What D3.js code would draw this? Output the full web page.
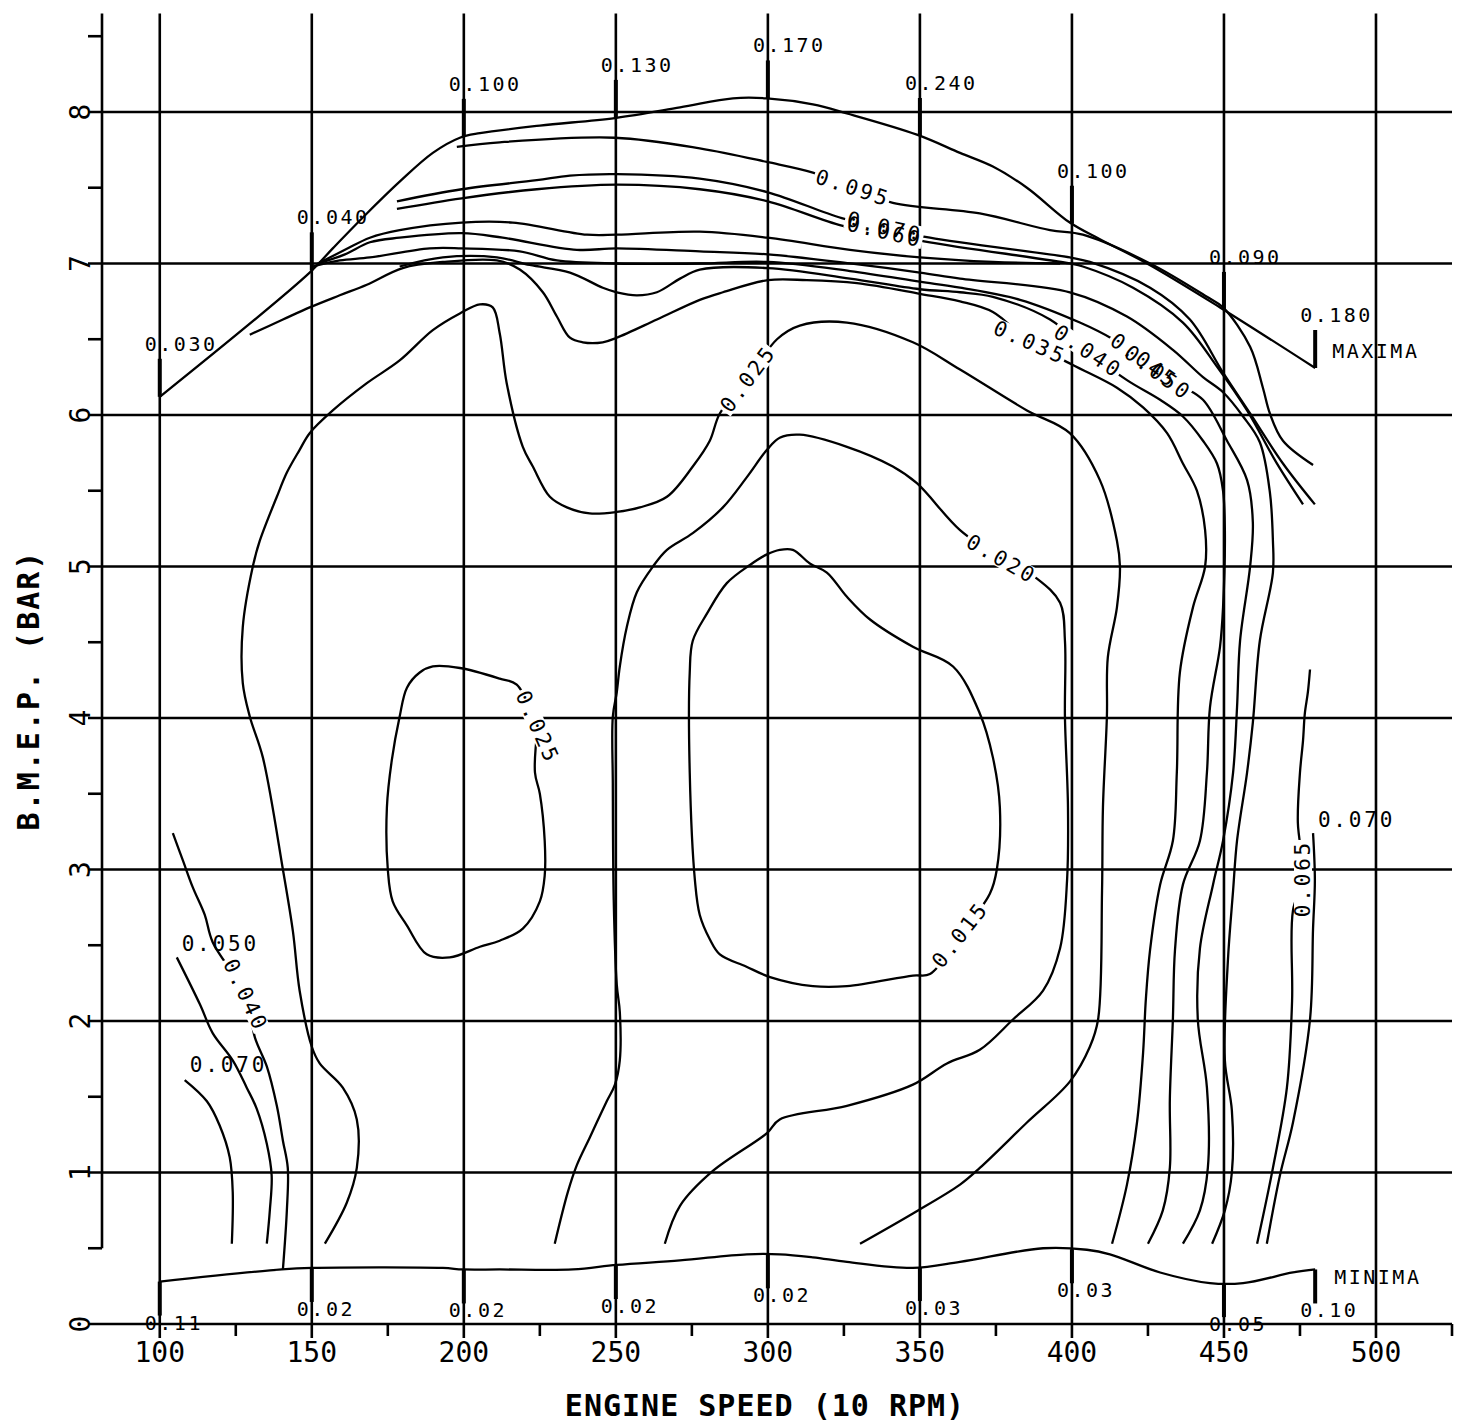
<!DOCTYPE html>
<html>
<head>
<meta charset="utf-8">
<script src="https://cdn.jsdelivr.net/npm/d3@7"></script>
<style>
  body { margin: 0; background: #fff; }
</style>
</head>
<body>
<script>
const speedTicks = [100, 150, 200, 250, 300, 350, 400, 450, 500]
const bmepTicks = [0, 1, 2, 3, 4, 5, 6, 7, 8]

// values printed along the full-load (maxima) and minima curves
const markSpeeds = [100, 150, 200, 250, 300, 350, 400, 450, 480]
const maximaValues = ['0.030', '0.040', '0.100', '0.130', '0.170', '0.240', '0.100', '0.090', '0.180']
const minimaValues = ['0.11', '0.02', '0.02', '0.02', '0.02', '0.03', '0.03', '0.05', '0.10']

// [engine speed (10 rpm), bmep (bar)]
const maxima = [[100, 6.12], [149.3, 6.94], [156.9, 7.10], [168.1, 7.33], [178.9, 7.54], [189.8, 7.73], [198.7, 7.83], [205.3, 7.86], [225, 7.91], [249.7, 7.96], [271.1, 8.03], [288.5, 8.09], [299.7, 8.09], [314.8, 8.05], [326, 7.99], [349, 7.85], [363.2, 7.73], [374, 7.64], [385.2, 7.50], [399.3, 7.27], [409.2, 7.16], [424.7, 7.00], [448.7, 6.71], [480, 6.31]]
const minima = [[100, 0.28], [140.1, 0.36], [150, 0.37], [193.1, 0.37], [199.7, 0.36], [211.8, 0.36], [235.9, 0.36], [250.3, 0.39], [271.1, 0.42], [293.1, 0.46], [303.9, 0.46], [314.8, 0.44], [326, 0.41], [347.7, 0.37], [363.2, 0.41], [390.5, 0.50], [404.9, 0.49], [412.5, 0.46], [429, 0.34], [445.4, 0.27], [456.3, 0.27], [472.7, 0.34], [480, 0.36]]

const c015 = [[363.2, 2.57], [373, 2.84], [375.3, 3.00], [376.3, 3.41], [374, 3.74], [369.7, 4.03], [360.9, 4.34], [347.7, 4.47], [333.6, 4.65], [326, 4.80], [319.4, 4.96], [313.8, 5.02], [308.2, 5.11], [303.9, 5.11], [299.7, 5.08], [294.1, 5.01], [286.5, 4.89], [280, 4.69], [275.3, 4.51], [274.3, 4.30], [274.3, 3.64], [276, 2.93], [277.6, 2.70], [280.9, 2.54], [284.2, 2.44], [292.8, 2.36], [300.7, 2.29], [314.8, 2.23], [326, 2.23], [347.7, 2.30], [353.3, 2.31], [363.2, 2.57]]
const c020 = [[229.9, 0.53], [234.2, 0.87], [237.2, 1.05], [241.4, 1.23], [247, 1.47], [249.7, 1.58], [251.3, 1.74], [251.3, 2.06], [250.3, 2.24], [249.3, 2.80], [249, 3.57], [249, 4.01], [250.3, 4.17], [251.3, 4.34], [253.6, 4.60], [256.9, 4.83], [262.2, 5.00], [266.8, 5.11], [275.3, 5.22], [285.2, 5.39], [293.1, 5.59], [299.7, 5.77], [303.9, 5.85], [310.5, 5.87], [326, 5.79], [341.1, 5.66], [349, 5.55], [363.2, 5.24], [376.9, 5.05], [388.5, 4.92], [396.1, 4.76], [397.7, 4.51], [397.7, 4.01], [398.7, 3.41], [398.4, 2.93], [396.1, 2.48], [390.5, 2.20], [380.6, 2.01], [369.7, 1.81], [358.9, 1.72], [347.7, 1.58], [326, 1.44], [303.9, 1.35], [299.7, 1.26], [281.9, 1.01], [271.1, 0.78], [266.1, 0.53]]
const c025 = [[154.3, 0.53], [161.5, 0.80], [164.8, 1.03], [164.8, 1.35], [160.2, 1.56], [152.6, 1.72], [150, 1.83], [146, 2.20], [143.8, 2.59], [140.5, 3.00], [133.9, 3.74], [129.6, 4.01], [127.3, 4.23], [127.3, 4.60], [130.6, 5.00], [132.9, 5.17], [138.5, 5.46], [141.8, 5.62], [146, 5.77], [149.3, 5.88], [156.9, 6.03], [168.1, 6.21], [178.9, 6.36], [189.8, 6.56], [198.7, 6.67], [205.3, 6.73], [209.5, 6.71], [211.8, 6.54], [214.1, 6.21], [219.4, 5.79], [222.7, 5.66], [228.3, 5.46], [233.9, 5.39], [241.4, 5.35], [250.3, 5.36], [257.9, 5.39], [266.8, 5.46], [275.3, 5.66], [280.9, 5.83], [284.2, 6.01], [293.4, 6.24], [303, 6.50], [310.5, 6.59], [326, 6.61], [347.7, 6.48], [363.2, 6.30], [385.2, 6.03], [399.3, 5.88], [409.2, 5.57], [414.8, 5.17], [415.8, 5.00], [414.8, 4.73], [411.8, 4.40], [411.5, 4.01], [410.2, 3.41], [409.9, 2.86], [408.6, 2.01], [405.9, 1.83], [399.3, 1.60], [385.2, 1.33], [369.7, 1.03], [363.2, 0.92], [347.7, 0.73], [330.3, 0.53]]
const c025loop = [[224.3, 3.94], [223.4, 3.64], [225, 3.50], [226.6, 3.19], [226.6, 2.96], [225, 2.79], [219.4, 2.61], [211.8, 2.53], [205.3, 2.49], [195.4, 2.42], [187.8, 2.44], [181.3, 2.63], [176.6, 2.79], [175, 3.00], [174.7, 3.41], [176.3, 3.72], [178.9, 4.01], [181.3, 4.20], [185.5, 4.30], [189.8, 4.34], [198.7, 4.33], [211.8, 4.26], [217.4, 4.22], [224.3, 3.94]]
const c035 = [[129.6, 6.53], [140.5, 6.63], [149.3, 6.71], [159.2, 6.79], [168.1, 6.86], [179.9, 6.97], [193.1, 7.01], [210.9, 7.02], [218.4, 6.96], [226, 6.81], [230.6, 6.65], [234.9, 6.51], [239.1, 6.48], [245.7, 6.48], [250.3, 6.51], [263.5, 6.63], [277.6, 6.76], [285.2, 6.81], [300, 6.89], [312.8, 6.89], [329.3, 6.87], [350, 6.80], [363.2, 6.75], [374, 6.68], [386.2, 6.48], [400.3, 6.33], [414.8, 6.18], [423.4, 6.05], [431.3, 5.88], [436.5, 5.68], [441.1, 5.50], [443.8, 5.24], [443.8, 5.00], [439.8, 4.73], [435.5, 4.30], [434.5, 3.64], [433.2, 3.19], [429, 2.90], [425.7, 2.47], [424.3, 2.14], [423.4, 1.79], [421.4, 1.33], [418.1, 0.92], [413.2, 0.53]]
const c040 = [[178.9, 6.98], [193.1, 7.04], [210.9, 7.04], [221.7, 6.99], [234.9, 6.94], [245.7, 6.84], [250.3, 6.81], [256.9, 6.79], [263.5, 6.81], [271.1, 6.90], [277.6, 6.96], [300, 6.97], [327, 6.90], [350, 6.83], [363.2, 6.81], [374, 6.78], [392.8, 6.63], [405.3, 6.42], [418.1, 6.23], [429, 6.10], [436.5, 5.99], [443.1, 5.83], [447.7, 5.68], [449.7, 5.50], [450.3, 5.24], [449.7, 4.73], [448.7, 4.47], [445.4, 4.07], [444.4, 3.64], [442.1, 3.19], [436.5, 2.90], [433.9, 2.47], [433.2, 2.01], [432.2, 1.48], [432.2, 1.03], [429.9, 0.75], [425, 0.53]]
const c045 = [[150.3, 6.98], [159.2, 7.02], [169.1, 7.04], [188.8, 7.10], [199.3, 7.10], [218.4, 7.08], [230.6, 7.02], [250.3, 7.00], [277.6, 7.00], [300, 7.01], [327, 6.95], [350, 6.88], [363.2, 6.84], [382.9, 6.76], [402.6, 6.61], [413.5, 6.50], [422.4, 6.38], [435.5, 6.20], [443.1, 6.10], [451, 5.83], [457.6, 5.57], [459.5, 5.29], [458.6, 5.00], [455.3, 4.51], [454.3, 4.07], [453, 3.64], [449.7, 3.19], [446.4, 2.90], [442.1, 2.48], [441.4, 2.01], [444.4, 1.56], [444.7, 1.03], [442.1, 0.75], [436.5, 0.53]]
const c050 = [[152, 7.00], [160.9, 7.06], [169.1, 7.14], [178.9, 7.17], [199.3, 7.20], [212.8, 7.17], [237.2, 7.09], [250.3, 7.10], [277.6, 7.08], [300, 7.06], [327, 7.00], [350, 6.94], [363.2, 6.90], [399.3, 6.81], [418.1, 6.65], [433.2, 6.43], [443.1, 6.25], [449.7, 6.15], [456.3, 5.99], [461.8, 5.82], [465.1, 5.49], [466.1, 5.17], [466.1, 4.96], [461.8, 4.51], [459.5, 3.97], [457.6, 3.64], [454.3, 3.19], [453, 2.86], [451.3, 2.40], [450.3, 1.74], [452.6, 1.41], [452.6, 1.00], [450.3, 0.75], [446.1, 0.53]]
const c055 = [[152, 7.00], [160.9, 7.09], [169.1, 7.17], [178.9, 7.22], [199.3, 7.27], [216.1, 7.27], [240.5, 7.19], [250.3, 7.19], [277.6, 7.21], [300, 7.17], [327, 7.09], [350, 7.04], [374, 7.01], [396.1, 7.00]]
const c060 = [[178, 7.36], [199.3, 7.43], [224, 7.49], [250.3, 7.52], [277.6, 7.49], [300, 7.41], [324.3, 7.25], [338.5, 7.20], [353.3, 7.14], [399.3, 7.00], [403.6, 6.98], [420.1, 6.84], [436.5, 6.61], [447.7, 6.32], [457.6, 6.03], [467.4, 5.68], [476, 5.41]]
const c070 = [[178, 7.41], [199.3, 7.49], [224, 7.55], [234.9, 7.58], [250.3, 7.59], [277.6, 7.56], [300, 7.47], [324.3, 7.30], [338.5, 7.24], [353.3, 7.17], [399.3, 7.04], [405.9, 7.01], [425.7, 6.84], [438.8, 6.63], [449.7, 6.28], [458.6, 6.01], [469.4, 5.68], [479.9, 5.41]]
const c095 = [[197.7, 7.77], [211.8, 7.80], [249.7, 7.83], [277.6, 7.76], [299.7, 7.67], [314.8, 7.60], [328, 7.50], [341.1, 7.40], [369.7, 7.33], [392.8, 7.22], [403.6, 7.19], [425.7, 7.00], [444.4, 6.78], [449.7, 6.71], [458.6, 6.45], [462.8, 6.18], [465.1, 6.01], [469.4, 5.83], [479.3, 5.67]]
const c040low = [[104.3, 3.24], [107.6, 3.06], [110.9, 2.88], [114.8, 2.70], [117.4, 2.52], [128.3, 2.17], [131.3, 1.89], [135.2, 1.70], [138.5, 1.44], [140.5, 1.21], [142.1, 1.03], [141.8, 0.75], [140.5, 0.36]]
const c050low = [[105.6, 2.42], [113.2, 2.11], [117.4, 1.92], [124, 1.74], [128.6, 1.56], [131.9, 1.42], [135.2, 1.19], [136.8, 0.98], [136.2, 0.75], [135.2, 0.53]]
const c070low = [[108.2, 1.61], [115.5, 1.47], [119.7, 1.31], [123, 1.10], [124, 0.87], [123.7, 0.53]]
const c065high = [[478.3, 4.32], [477.6, 4.17], [476.6, 4.03], [476, 3.85], [475, 3.64], [474.3, 3.31], [476, 2.94], [472.7, 2.73], [472.4, 2.13], [470.7, 1.56], [466.1, 1.03], [460.9, 0.53]]
const c070high = [[479.3, 3.24], [479.9, 2.93], [479.3, 2.61], [478.3, 2.01], [472.7, 1.33], [468.4, 0.98], [464.1, 0.53]]

const contours = [c015, c020, c025, c025loop, c035, c040, c045, c050, c055, c060, c070, c095, c040low, c050low, c070low, c065high, c070high]

// [text, speed, bmep, angle]
const inlineLabels = [
  ['0.095', 328, 7.50, 18],
  ['0.070', 338.5, 7.24, 13],
  ['0.060', 338.5, 7.21, 13],
  ['0.035', 386.2, 6.48, 24],
  ['0.040', 405.3, 6.42, 34],
  ['0.045', 423.7, 6.36, 36],
  ['0.050', 428.3, 6.28, 36],
  ['0.025', 293.4, 6.24, -53],
  ['0.020', 376.9, 5.05, 30],
  ['0.015', 363.2, 2.57, -52],
  ['0.025', 224.3, 3.94, 66],
  ['0.040', 128.3, 2.17, 65],
  ['0.065', 476, 2.94, -90]
]
const endLabels = [['0.050', 107.2, 2.51], ['0.070', 109.9, 1.71], ['0.070', 480.9, 3.33]]

const width = 1465
const height = 1424
const x = d3.scaleLinear().domain([81, 525]).range([102, 1452])
const y = d3.scaleLinear().domain([0, 8.65]).range([1324, 13.5])

const at = (curve, s) => {
  for (let i = 0; i < curve.length - 1; i++) {
    const [s0, b0] = curve[i]
    const [s1, b1] = curve[i + 1]
    if (s >= s0 && s <= s1) return b0 + ((b1 - b0) * (s - s0)) / (s1 - s0)
  }
  return curve[curve.length - 1][1]
}

const svg = d3
  .select('body')
  .append('svg')
  .attr('width', width)
  .attr('height', height)
  .attr('font-family', "'DejaVu Sans Mono', monospace")

svg.append('rect').attr('width', width).attr('height', height).attr('fill', '#fff')

const grid = svg.append('g').attr('stroke', '#000').attr('stroke-width', 2.6)

grid
  .selectAll('.hgrid')
  .data(bmepTicks.filter(d => d > 0))
  .join('line')
  .attr('x1', x(81) - 14)
  .attr('x2', x(525))
  .attr('y1', d => y(d))
  .attr('y2', d => y(d))

grid
  .selectAll('.vgrid')
  .data(speedTicks)
  .join('line')
  .attr('x1', d => x(d))
  .attr('x2', d => x(d))
  .attr('y1', y(8.65))
  .attr('y2', y(0) + 14)

// axes
grid.append('line').attr('x1', x(81)).attr('x2', x(81)).attr('y1', y(8.65)).attr('y2', y(0.5))
grid.append('line').attr('x1', x(81) - 14).attr('x2', x(525)).attr('y1', y(0)).attr('y2', y(0))

grid
  .selectAll('.ytick')
  .data(d3.range(0.5, 8.6, 1))
  .join('line')
  .attr('x1', x(81) - 14)
  .attr('x2', x(81))
  .attr('y1', d => y(d))
  .attr('y2', d => y(d))

grid
  .selectAll('.xtick')
  .data(d3.range(125, 526, 50))
  .join('line')
  .attr('x1', d => x(d))
  .attr('x2', d => x(d))
  .attr('y1', y(0))
  .attr('y2', y(0) + 12)

svg
  .append('g')
  .attr('font-size', 28)
  .attr('text-anchor', 'middle')
  .selectAll('text')
  .data(speedTicks)
  .join('text')
  .attr('x', d => x(d))
  .attr('y', y(0) + 38)
  .text(d => d)

svg
  .append('g')
  .attr('font-size', 28)
  .attr('text-anchor', 'middle')
  .selectAll('text')
  .data(bmepTicks)
  .join('text')
  .attr('transform', d => `translate(80,${y(d)}) rotate(-90)`)
  .attr('dy', '0.35em')
  .text(d => d)

svg
  .append('text')
  .attr('x', 765)
  .attr('y', 1416)
  .attr('text-anchor', 'middle')
  .attr('font-size', 30)
  .attr('font-weight', 'bold')
  .attr('letter-spacing', 1)
  .text('ENGINE SPEED (10 RPM)')

svg
  .append('text')
  .attr('transform', 'translate(28,690) rotate(-90)')
  .attr('dy', '0.35em')
  .attr('text-anchor', 'middle')
  .attr('font-size', 30)
  .attr('font-weight', 'bold')
  .attr('letter-spacing', 2)
  .text('B.M.E.P. (BAR)')

const line = d3
  .line()
  .x(d => x(d[0]))
  .y(d => y(d[1]))
  .curve(d3.curveCatmullRom.alpha(0.5))

svg
  .append('g')
  .attr('fill', 'none')
  .attr('stroke', '#000')
  .attr('stroke-width', 2.3)
  .attr('stroke-linejoin', 'round')
  .selectAll('path')
  .data(contours.concat([maxima, minima]))
  .join('path')
  .attr('d', line)

// value marks on the maxima / minima curves
const marks = svg.append('g').attr('font-size', 20).attr('letter-spacing', 2.5)
markSpeeds.forEach((s, i) => {
  const yMax = y(at(maxima, s))
  const yMin = y(at(minima, s))
  marks.append('line').attr('x1', x(s)).attr('x2', x(s)).attr('y1', yMax).attr('y2', yMax - 38).attr('stroke', '#000').attr('stroke-width', 4)
  marks.append('text').attr('x', x(s) - 15).attr('y', yMax - 46).text(maximaValues[i])
  marks.append('line').attr('x1', x(s)).attr('x2', x(s)).attr('y1', yMin).attr('y2', yMin + 34).attr('stroke', '#000').attr('stroke-width', 4)
  marks.append('text').attr('x', x(s) - 15).attr('y', yMin + 48).text(minimaValues[i])
})
const sEnd = markSpeeds[markSpeeds.length - 1]
marks.append('text').attr('x', x(sEnd) + 17).attr('y', y(at(maxima, sEnd)) - 10).text('MAXIMA')
marks.append('text').attr('x', x(sEnd) + 19).attr('y', y(at(minima, sEnd)) + 15).text('MINIMA')

// contour labels, each on a white patch that breaks the line
const rectLayer = svg.append('g').attr('fill', '#fff')
const textLayer = svg.append('g').attr('font-size', 21).attr('letter-spacing', 2.8)
inlineLabels.forEach(([t, s, b, a]) => {
  const tf = `translate(${x(s)},${y(b)}) rotate(${a})`
  const txt = textLayer.append('text').attr('transform', tf).attr('text-anchor', 'middle').attr('dy', '0.35em').text(t)
  const bb = txt.node().getBBox()
  rectLayer
    .append('rect')
    .attr('transform', tf)
    .attr('x', bb.x - 2)
    .attr('width', bb.width + 2)
    .attr('y', -9)
    .attr('height', 18)
})
endLabels.forEach(([t, s, b]) => {
  textLayer.append('text').attr('x', x(s)).attr('y', y(b)).attr('dy', '0.35em').text(t)
})
</script>
</body>
</html>
